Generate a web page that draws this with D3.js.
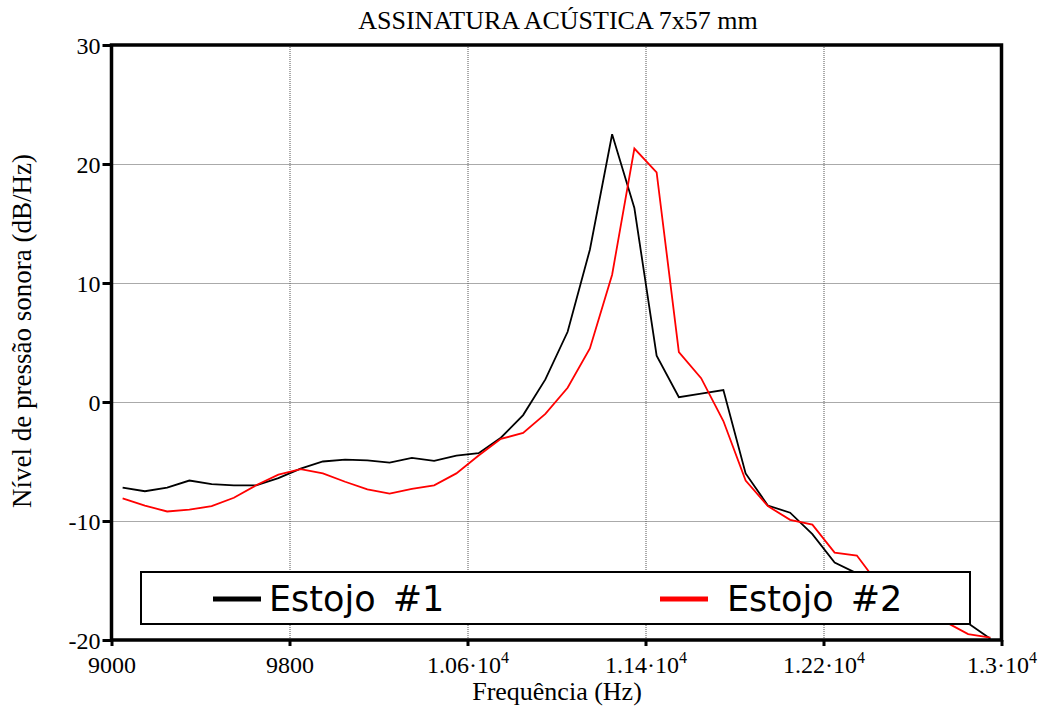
<!DOCTYPE html>
<html>
<head>
<meta charset="utf-8">
<script src="https://cdn.jsdelivr.net/npm/d3@7"></script>
<style>
  html, body { margin: 0; padding: 0; background: #fff; }
  svg { display: block; }
</style>
</head>
<body>
<svg id="chart" width="1048" height="708"></svg>
<script>
// Frequency samples (Hz) shared by both measured cases
const frequencies = [
  9050, 9150, 9250, 9350, 9450, 9550, 9650, 9750, 9850, 9950,
  10050, 10150, 10250, 10350, 10450, 10550, 10650, 10750, 10850, 10950,
  11050, 11150, 11250, 11350, 11450, 11550, 11650, 11750, 11850, 11950,
  12050, 12150, 12250, 12350, 12450, 12550, 12650, 12750, 12850, 12950
];

// Sound pressure level (dB/Hz), Estojo #1
const estojo1 = [
  -7.2, -7.5, -7.2, -6.6, -6.9, -7.0, -7.0, -6.4, -5.6, -5.0,
  -4.85, -4.9, -5.1, -4.7, -4.95, -4.5, -4.3, -3.0, -1.1, 1.9,
  5.9, 12.8, 22.5, 16.3, 3.9, 0.4, 0.7, 1.0, -6.0, -8.7,
  -9.3, -11.1, -13.5, -14.4, -15.2, -16.0, -16.8, -17.6, -18.6, -19.9
];

// Sound pressure level (dB/Hz), Estojo #2
const estojo2 = [
  -8.1, -8.7, -9.2, -9.05, -8.75, -8.05, -7.0, -6.1, -5.65, -6.0,
  -6.7, -7.35, -7.7, -7.3, -7.0, -6.0, -4.5, -3.1, -2.6, -1.0,
  1.2, 4.5, 10.7, 21.3, 19.3, 4.2, 2.0, -1.6, -6.6, -8.75,
  -9.9, -10.3, -12.65, -12.9, -15.4, -16.4, -17.4, -18.5, -19.5, -19.8
];

const seriesNames = ["Estojo #1", "Estojo #2"];
const seriesColors = ["#000000", "#ff0000"];

const xTicks = [9000, 9800, 10600, 11400, 12200, 13000];
const xTickLabels = ["9000", "9800", "1.06·10^4", "1.14·10^4", "1.22·10^4", "1.3·10^4"];
const yTicks = [30, 20, 10, 0, -10, -20];
const yTickLabels = ["30", "20", "10", "0", "-10", "-20"];

const titleText = "ASSINATURA ACÚSTICA 7x57 mm";
const xLabelText = "Frequência (Hz)";
const yLabelText = "Nível de pressão sonora (dB/Hz)";

// ---- layout ----
const svg = d3.select("#chart");
const plot = { left: 111.5, right: 1001.5, top: 45, bottom: 640 };
const serif = "'Liberation Serif', 'Times New Roman', serif";
const sans = "'DejaVu Sans', Verdana, sans-serif";

const x = d3.scaleLinear().domain([9000, 13000]).range([plot.left, plot.right]);
const y = d3.scaleLinear().domain([-20, 30]).range([plot.bottom, plot.top]);

// ---- dotted grid ----
const grid = svg.append("g").attr("class", "grid");
grid.append("g")
  .attr("transform", `translate(0,${plot.bottom})`)
  .call(d3.axisBottom(x).tickValues(xTicks.slice(1, -1)).tickSize(-(plot.bottom - plot.top)).tickFormat(""))
  .call(g => g.select(".domain").remove());
grid.append("g")
  .attr("transform", `translate(${plot.left},0)`)
  .call(d3.axisLeft(y).tickValues(yTicks.slice(1, -1)).tickSize(-(plot.right - plot.left)).tickFormat(""))
  .call(g => g.select(".domain").remove());
grid.selectAll("line")
  .attr("stroke", "#555")
  .attr("stroke-width", 1)
  .attr("stroke-dasharray", "1,1");

// ---- data lines ----
const line = d3.line()
  .x((d, i) => x(frequencies[i]))
  .y(d => y(d));

svg.append("clipPath").attr("id", "plot-clip")
  .append("rect")
  .attr("x", plot.left).attr("y", plot.top)
  .attr("width", plot.right - plot.left).attr("height", plot.bottom - plot.top);

const lines = svg.append("g").attr("clip-path", "url(#plot-clip)");
[estojo1, estojo2].forEach((vals, k) => {
  lines.append("path")
    .datum(vals)
    .attr("fill", "none")
    .attr("stroke", seriesColors[k])
    .attr("stroke-width", 1.8)
    .attr("stroke-linejoin", "miter")
    .attr("d", line);
});

// ---- frame and axes ----
svg.append("rect")
  .attr("x", plot.left).attr("y", plot.top)
  .attr("width", plot.right - plot.left).attr("height", plot.bottom - plot.top)
  .attr("fill", "none")
  .attr("stroke", "#000")
  .attr("stroke-width", 3.5);

const yAxis = svg.append("g")
  .attr("transform", `translate(${plot.left},0)`)
  .call(d3.axisLeft(y).tickValues(yTicks).tickSize(9).tickPadding(2)
    .tickFormat((d, i) => yTickLabels[i]));
yAxis.select(".domain").remove();
yAxis.selectAll(".tick line").attr("stroke", "#000").attr("stroke-width", 3);
yAxis.selectAll(".tick text")
  .attr("font-family", serif)
  .attr("font-size", 24)
  .attr("fill", "#000")
  .attr("dy", "0.34em");

const xAxis = svg.append("g")
  .attr("transform", `translate(0,${plot.bottom})`)
  .call(d3.axisBottom(x).tickValues(xTicks).tickSize(6).tickFormat(""));
xAxis.select(".domain").remove();
xAxis.selectAll(".tick line").attr("stroke", "#000").attr("stroke-width", 3);

// x tick labels, with a raised exponent where the label has one
xAxis.selectAll(".tick").each(function(d, i) {
  const parts = xTickLabels[i].split("^");
  const t = d3.select(this).append("text")
    .attr("y", 33)
    .attr("text-anchor", "middle")
    .attr("font-family", serif)
    .attr("font-size", 24)
    .attr("fill", "#000");
  t.append("tspan").text(parts[0]);
  if (parts.length > 1) {
    t.append("tspan")
      .attr("font-size", 16)
      .attr("dy", -10)
      .text(parts[1]);
  }
});

// ---- titles ----
svg.append("text")
  .attr("x", 558).attr("y", 29)
  .attr("text-anchor", "middle")
  .attr("font-family", serif)
  .attr("font-size", 26)
  .attr("fill", "#000")
  .text(titleText);

svg.append("text")
  .attr("x", 557).attr("y", 700)
  .attr("text-anchor", "middle")
  .attr("font-family", serif)
  .attr("font-size", 26)
  .attr("fill", "#000")
  .text(xLabelText);

svg.append("text")
  .attr("transform", "translate(31,331) rotate(-90)")
  .attr("text-anchor", "middle")
  .attr("font-family", serif)
  .attr("font-size", 27)
  .attr("fill", "#000")
  .text(yLabelText);

// ---- legend ----
const legend = svg.append("g");
legend.append("rect")
  .attr("x", 141).attr("y", 572)
  .attr("width", 829).attr("height", 52)
  .attr("fill", "#fff")
  .attr("stroke", "#000")
  .attr("stroke-width", 2);

const legendItems = [
  { lineX: 213, textX: 269 },
  { lineX: 660, textX: 727 }
];
legendItems.forEach((it, k) => {
  legend.append("line")
    .attr("x1", it.lineX).attr("x2", it.lineX + 48)
    .attr("y1", 599).attr("y2", 599)
    .attr("stroke", seriesColors[k])
    .attr("stroke-width", 5);
  legend.append("text")
    .attr("x", it.textX).attr("y", 611)
    .attr("font-family", sans)
    .attr("font-size", 35)
    .attr("word-spacing", 6)
    .attr("fill", "#000")
    .text(seriesNames[k]);
});
</script>
</body>
</html>
